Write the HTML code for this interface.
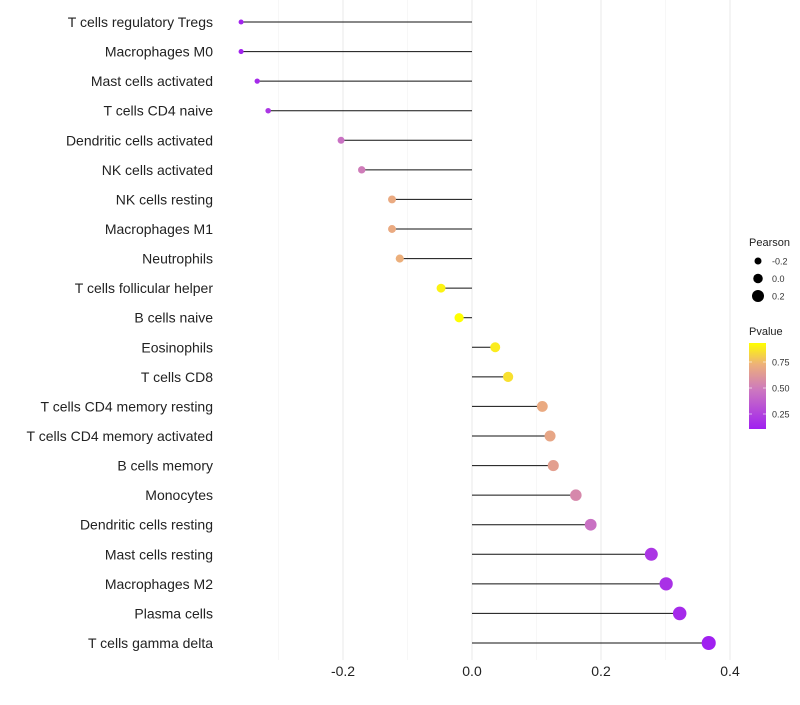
<!DOCTYPE html>
<html><head><meta charset="utf-8"><style>
body{margin:0;background:#fff;font-family:"Liberation Sans",sans-serif}
</style></head><body>
<svg id="chart" width="800" height="700" xmlns="http://www.w3.org/2000/svg">
<defs><linearGradient id="pg" x1="0" y1="1" x2="0" y2="0">
<stop offset="0" stop-color="#A020F0"/><stop offset="0.45" stop-color="#CC77C0"/><stop offset="0.75" stop-color="#EDB07A"/><stop offset="1" stop-color="#FFFF00"/>
</linearGradient></defs>
<g id="grid"></g><g id="marks"></g><g id="labels"></g><g id="legend"></g>
</svg>
<script>
const categories=["T cells regulatory  Tregs","Macrophages M0","Mast cells activated","T cells CD4 naive","Dendritic cells activated","NK cells activated","NK cells resting","Macrophages M1","Neutrophils","T cells follicular helper","B cells naive","Eosinophils","T cells CD8","T cells CD4 memory resting","T cells CD4 memory activated","B cells memory","Monocytes","Dendritic cells resting","Mast cells resting","Macrophages M2","Plasma cells","T cells gamma delta"];
const pearson=[-0.358,-0.358,-0.333,-0.316,-0.203,-0.171,-0.124,-0.124,-0.112,-0.048,-0.020,0.036,0.056,0.109,0.121,0.126,0.161,0.184,0.278,0.301,0.322,0.367];
const pvalue=[0.12,0.12,0.15,0.2,0.45,0.5,0.7,0.7,0.72,0.9,0.93,0.88,0.85,0.7,0.68,0.65,0.55,0.45,0.2,0.18,0.15,0.1];
const xTicks=[-0.2,0,0.2,0.4];
const xTickLabels=["-0.2","0.0","0.2","0.4"];
const NS="http://www.w3.org/2000/svg";
const xs=v=>472+v*645;
const ys=i=>22+i*(621/21);
const rs=v=>4.75+6.25*v;
const stops=[[0,[160,32,240]],[0.45,[204,119,192]],[0.75,[237,176,122]],[1,[255,255,0]]];
function col(p){let t=(p-0.106)/(0.93-0.106);t=Math.max(0,Math.min(1,t));
for(let k=1;k<stops.length;k++){if(t<=stops[k][0]){const a=stops[k-1],b=stops[k];const f=(t-a[0])/(b[0]-a[0]);
return "rgb("+a[1].map((c,j)=>Math.round(c+(b[1][j]-c)*f)).join(",")+")";}}return "rgb(255,255,0)";}
function mk(tag,attrs,parent,text){const e=document.createElementNS(NS,tag);for(const k in attrs)e.setAttribute(k,attrs[k]);if(text!==undefined)e.textContent=text;document.getElementById(parent).appendChild(e);return e;}
[-0.3,-0.1,0.1,0.3].forEach(v=>{const l=mk("line",{x1:xs(v),x2:xs(v),y1:0,y2:660,stroke:"#f2f2f2","stroke-width":0.6},"grid");

});
xTicks.forEach((v,i)=>{const l=mk("line",{x1:xs(v),x2:xs(v),y1:0,y2:660,stroke:"#ebebeb","stroke-width":1.1},"grid");


const t=mk("text",{x:xs(v),y:676,"text-anchor":"middle","font-size":14,fill:"#222"},"labels",xTickLabels[i]);

});
categories.forEach((c,i)=>{const y=ys(i);
const t=mk("text",{x:213,y:y+5,"text-anchor":"end","font-size":14,fill:"#222"},"labels",c);


const l=mk("line",{x1:xs(0),x2:xs(pearson[i]),y1:y,y2:y,stroke:"#111","stroke-width":1},"marks");


const p=mk("circle",{cx:xs(pearson[i]),cy:y,r:rs(pearson[i]),fill:col(pvalue[i])},"marks");

});
// legend
let t=mk("text",{x:749,y:246,"font-size":11,fill:"#222"},"legend","Pearson");


[-0.2,0,0.2].forEach((v,i)=>{const y=261+i*17.5;
const c=mk("circle",{cx:758,cy:y,r:rs(v),fill:"#000"},"legend");


const tx=mk("text",{x:772,y:y+3.5,"font-size":9,fill:"#333"},"legend",["-0.2","0.0","0.2"][i]);

});
t=mk("text",{x:749,y:335,"font-size":11,fill:"#222"},"legend","Pvalue");


const bar=mk("rect",{x:749,y:343,width:17,height:86,fill:"url(#pg)"},"legend");


[[0.75,362],[0.50,388],[0.25,414]].forEach(([v,y])=>{
const tx=mk("text",{x:772,y:y+3.5,"font-size":9,fill:"#333"},"legend",v.toFixed(2));


mk("line",{x1:749,x2:752,y1:y,y2:y,stroke:"#fff","stroke-width":0.6},"legend");
mk("line",{x1:763,x2:766,y1:y,y2:y,stroke:"#fff","stroke-width":0.6},"legend");});
</script>
</body></html>
